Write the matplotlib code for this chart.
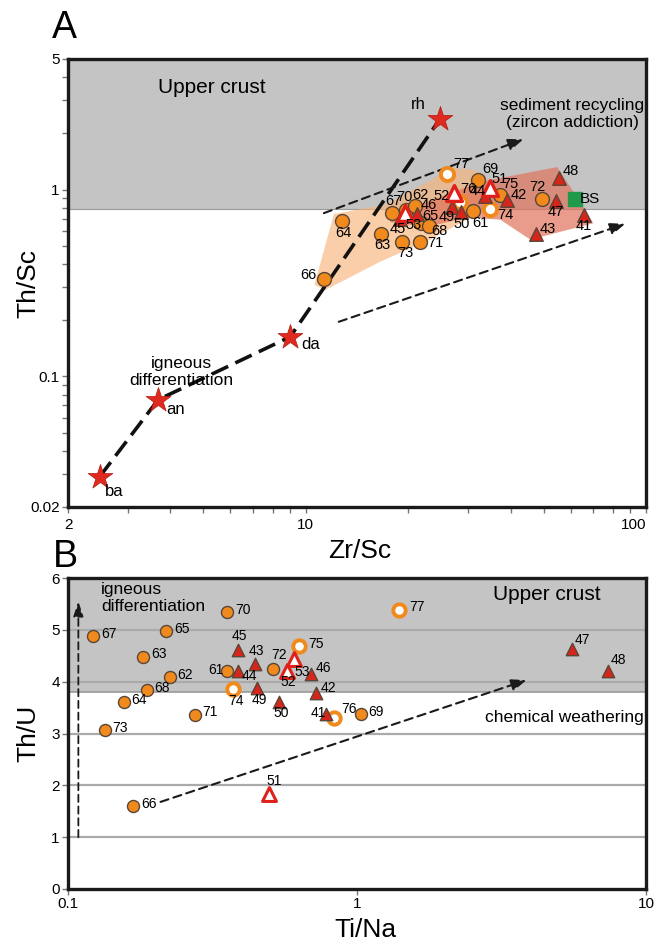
import matplotlib.pyplot as plt
import numpy as np

plt.rcParams['font.family'] = ['Liberation Sans', 'DejaVu Sans']

# ---- panel A data: Th/Sc vs Zr/Sc ----
a_circ_id = ['64', '66', '63', '73', '71', '67', '70', '62', '65', '68', '61', '69', '72', '75']
a_circ_zr = [12.8, 11.3, 16.6, 19.2, 21.6, 17.9, 19.7, 21.0, 21.8, 23.0, 31.0, 32.0, 49.4, 37.3]
a_circ_th = [0.675, 0.332, 0.579, 0.524, 0.527, 0.748, 0.78, 0.82, 0.66, 0.64, 0.77, 1.13, 0.89, 0.93]

a_ring_id = ['77', '74', '76']
a_ring_zr = [26.0, 34.7, 28.4]
a_ring_th = [1.21, 0.79, 0.86]

a_tri_id = ['45', '46', '49', '50', '44', '42', '48', '47', '41', '43']
a_tri_zr = [18.9, 21.2, 26.9, 28.6, 33.7, 39.0, 55.6, 54.3, 65.6, 47.5]
a_tri_th = [0.70, 0.74, 0.81, 0.76, 0.92, 0.88, 1.16, 0.87, 0.73, 0.578]

a_otri_id = ['52', '51', '53']
a_otri_zr = [27.2, 34.8, 19.6]
a_otri_th = [0.957, 1.02, 0.748]

bs_zr, bs_th = 61.9, 0.89

star_id = ['ba', 'an', 'da', 'rh']
star_zr = [2.48, 3.68, 9.0, 24.8]
star_th = [0.0291, 0.075, 0.163, 2.39]

# compositional fields
field_or_zr = [10.6, 12.1, 17.1, 23.5, 26.6, 31.5, 34.8, 31.5, 23.2, 16.5, 11.4]
field_or_th = [0.309, 0.74, 0.83, 1.13, 1.31, 1.27, 1.06, 0.73, 0.54, 0.41, 0.29]
field_rd_zr = [17.7, 18.3, 24.8, 32.6, 54.8, 65.4, 70.0, 45.7, 37.3, 29.8, 22.7]
field_rd_th = [0.67, 0.75, 0.91, 1.10, 1.32, 0.81, 0.66, 0.54, 0.69, 0.71, 0.63]

uc_thsc = 0.79

# ---- panel B data: Th/U vs Ti/Na ----
b_circ_id = ['67', '65', '63', '62', '68', '64', '71', '70', '61', '72', '69', '73', '66']
b_circ_ti = [0.122, 0.218, 0.182, 0.225, 0.188, 0.156, 0.275, 0.354, 0.354, 0.513, 1.03, 0.134, 0.168]
b_circ_thu = [4.88, 4.97, 4.47, 4.09, 3.84, 3.60, 3.35, 5.35, 4.21, 4.24, 3.38, 3.07, 1.61]

b_ring_id = ['74', '75', '76', '77']
b_ring_ti = [0.372, 0.631, 0.830, 1.40]
b_ring_thu = [3.86, 4.68, 3.29, 5.39]

b_tri_id = ['45', '44', '43', '49', '50', '46', '42', '41', '47', '48']
b_tri_ti = [0.386, 0.388, 0.442, 0.450, 0.537, 0.694, 0.719, 0.784, 5.53, 7.36]
b_tri_thu = [4.61, 4.20, 4.34, 3.87, 3.60, 4.15, 3.78, 3.38, 4.63, 4.20]

b_otri_id = ['51', '52', '53']
b_otri_ti = [0.497, 0.571, 0.605]
b_otri_thu = [1.84, 4.20, 4.43]

uc_thu = 3.8

# label offsets in pixels (dx, dy)
a_off = {'64': (1, -12), '66': (-15, 4), '63': (2, -11), '73': (3, -11), '71': (16, -1),
         '67': (2, 12), '70': (-2, 13), '62': (5, 11), '46': (12, 9), '65': (9, 7),
         '45': (-2, -10), '53': (8, -12), '68': (11, -5), '49': (-5, -10), '50': (1, -12),
         '61': (7, -12), '52': (-12, -3), '77': (14, 10), '76': (8, 13), '69': (13, 11),
         '51': (10, 9), '44': (-8, 5), '75': (10, 11), '42': (12, 5), '74': (16, -6),
         '72': (-4, 12), '48': (11, 7), '47': (0, -11), '41': (0, -11), '43': (12, 5)}
b_off = {'67': (16, 2), '65': (16, 2), '63': (16, 3), '62': (15, 2), '68': (15, 2),
         '64': (15, 2), '71': (15, 3), '70': (16, 2), '61': (-11, 1), '74': (3, -12),
         '45': (2, 14), '44': (11, -5), '43': (2, 13), '72': (6, 14), '75': (17, 2),
         '53': (8, -13), '52': (2, -11), '46': (12, 6), '42': (13, 5), '49': (3, -12),
         '50': (2, -11), '41': (-8, 1), '76': (15, 9), '69': (15, 2), '77': (18, 3),
         '47': (11, 9), '48': (11, 11), '73': (15, 2), '66': (16, 2), '51': (5, 13)}

ORANGE = '#f08a1c'
RED = '#d6261c'
EDGE = '#5a4638'
GREY = '#c4c4c4'
PX = 0.72

fig = plt.figure(figsize=(6.55, 9.43), dpi=100)
axA = fig.add_axes([68 / 655, 1 - 507 / 943, 578 / 655, 448 / 943])
axB = fig.add_axes([68 / 655, 1 - 889 / 943, 578 / 655, 311 / 943])


def label_points(ax, ids, xs, ys, offs, size):
    for i, x, y in zip(ids, xs, ys):
        dx, dy = offs[i]
        ax.annotate(i, (x, y), xytext=(dx * PX, dy * PX), textcoords='offset points',
                    ha='center', va='center', fontsize=size, zorder=8)


def style_axes(ax):
    for s in ax.spines.values():
        s.set_linewidth(2.4)
        s.set_color('#1a1a1a')
    ax.tick_params(which='both', direction='out', color='#777777', width=1)
    ax.tick_params(which='major', length=4, labelsize=11, pad=2)
    ax.tick_params(which='minor', length=4)


# ---------------- panel A ----------------
ax = axA
ax.set_xscale('log')
ax.set_yscale('log')
ax.set_xlim(2, 100)
ax.set_ylim(0.02, 5)
ax.axhspan(uc_thsc, 5, color=GREY, zorder=0, lw=0)
ax.axhline(uc_thsc, color='#9a9a9a', lw=0.8, zorder=0.5)

ax.fill(field_or_zr, field_or_th, color='#f6b47a', alpha=0.65, lw=0, zorder=1)
ax.fill(field_rd_zr, field_rd_th, color='#e0735c', alpha=0.7, lw=0, zorder=1.1)

ax.plot(star_zr, star_th, color='#111111', lw=2.6, ls=(0, (5, 2.2)), zorder=2)

ax.annotate('', xy=(43.6, 1.86), xytext=(11.3, 0.748),
            arrowprops=dict(arrowstyle='-|>,head_length=0.9,head_width=0.35',
                            ls=(0, (4, 2.5)), lw=1.5, color='#1a1a1a',
                            shrinkA=0, shrinkB=0), zorder=3)
ax.annotate('', xy=(86.9, 0.656), xytext=(12.5, 0.196),
            arrowprops=dict(arrowstyle='-|>,head_length=0.9,head_width=0.35',
                            ls=(0, (4, 2.5)), lw=1.5, color='#1a1a1a',
                            shrinkA=0, shrinkB=0), zorder=3)

ax.scatter(star_zr, star_th, marker='*', s=350, color='#e02a1f', edgecolor='#b01a10',
           lw=0.5, zorder=5)
star_off = {'ba': (14, -15), 'an': (17, -10), 'da': (20, -8), 'rh': (-22, 14)}
for i, x, y in zip(star_id, star_zr, star_th):
    dx, dy = star_off[i]
    ax.annotate(i, (x, y), xytext=(dx * PX, dy * PX), textcoords='offset points',
                ha='center', va='center', fontsize=12, zorder=8)

ax.scatter(a_circ_zr, a_circ_th, s=100, color=ORANGE, edgecolor=EDGE, lw=1.0, zorder=5)
ax.scatter(a_ring_zr, a_ring_th, s=90, color='white', edgecolor=ORANGE, lw=2.8, zorder=5)
ax.scatter(a_tri_zr, a_tri_th, s=95, marker='^', color=RED, edgecolor=EDGE, lw=1.0, zorder=6)
ax.scatter(a_otri_zr, a_otri_th, s=130, marker='^', color='white', edgecolor='#e0201a',
           lw=2.4, zorder=6)
ax.scatter([bs_zr], [bs_th], s=115, marker='s', color='#1f9a4a', zorder=6)
ax.annotate('BS', (bs_zr, bs_th), xytext=(15 * PX, 0), textcoords='offset points',
            ha='center', va='center', fontsize=11, zorder=8)
label_points(ax, a_circ_id + a_ring_id + a_tri_id + a_otri_id,
             a_circ_zr + a_ring_zr + a_tri_zr + a_otri_zr,
             a_circ_th + a_ring_th + a_tri_th + a_otri_th, a_off, 10.5)

ax.text(5.3, 3.5, 'Upper crust', fontsize=15, ha='center', va='center')
ax.text(60.6, 2.55, 'sediment recycling\n(zircon addiction)', fontsize=12.5,
        ha='center', va='center', linespacing=1.15)
ax.text(4.3, 0.106, 'igneous\ndifferentiation', fontsize=12.5, ha='center',
        va='center', linespacing=1.15)

ax.set_xticks([2, 10, 100])
ax.set_xticklabels(['2', '10', '100'])
ax.get_xticklabels()[-1].set_horizontalalignment('right')
ax.set_yticks([0.02, 0.1, 1, 5])
ax.set_yticklabels(['0.02', '0.1', '1', '5'])
ax.xaxis.set_minor_formatter(plt.NullFormatter())
ax.yaxis.set_minor_formatter(plt.NullFormatter())
style_axes(ax)
ax.tick_params(axis='x', which='major', pad=4)

fig.text(64 / 655, 1 - 28 / 943, 'A', fontsize=27, ha='center', va='center')
fig.text(28 / 655, 1 - 283 / 943, 'Th/Sc', fontsize=19, rotation=90, ha='center', va='center')
fig.text(360 / 655, 1 - 551 / 943, 'Zr/Sc', fontsize=19, ha='center', va='center')

# ---------------- panel B ----------------
ax = axB
ax.set_xscale('log')
ax.set_xlim(0.1, 10)
ax.set_ylim(0, 6)
ax.axhspan(uc_thu, 6, color=GREY, zorder=0, lw=0)
for g in [1, 2, 3, 4, 5]:
    ax.axhline(g, color='#aaaaaa', lw=1.6, zorder=0.5)
ax.axhline(uc_thu, color='#9a9a9a', lw=1.2, zorder=0.5)

ax.annotate('', xy=(3.86, 4.03), xytext=(0.209, 1.68),
            arrowprops=dict(arrowstyle='-|>,head_length=0.9,head_width=0.35',
                            ls=(0, (4, 2.5)), lw=1.5, color='#1a1a1a',
                            shrinkA=0, shrinkB=0), zorder=3)
ax.annotate('', xy=(0.1086, 5.55), xytext=(0.1086, 1.0),
            arrowprops=dict(arrowstyle='-|>,head_length=0.9,head_width=0.3',
                            ls=(0, (4, 2.5)), lw=1.3, color='#1a1a1a',
                            shrinkA=0, shrinkB=0), zorder=3)

ax.scatter(b_circ_ti, b_circ_thu, s=75, color=ORANGE, edgecolor=EDGE, lw=1.0, zorder=5)
ax.scatter(b_ring_ti, b_ring_thu, s=80, color='white', edgecolor=ORANGE, lw=2.8, zorder=5)
ax.scatter(b_tri_ti, b_tri_thu, s=80, marker='^', color=RED, edgecolor=EDGE, lw=1.0, zorder=6)
ax.scatter(b_otri_ti, b_otri_thu, s=100, marker='^', color='white', edgecolor='#e0201a',
           lw=2.2, zorder=6)
label_points(ax, b_circ_id + b_ring_id + b_tri_id + b_otri_id,
             b_circ_ti + b_ring_ti + b_tri_ti + b_otri_ti,
             b_circ_thu + b_ring_thu + b_tri_thu + b_otri_thu, b_off, 10)

ax.text(0.130, 5.62, 'igneous\ndifferentiation', fontsize=12.5, ha='left', va='center',
        linespacing=1.15)
ax.text(4.53, 5.68, 'Upper crust', fontsize=15, ha='center', va='center')
ax.text(9.8, 3.3, 'chemical weathering', fontsize=12.5, ha='right', va='center')

ax.set_xticks([0.1, 1, 10])
ax.set_xticklabels(['0.1', '1', '10'])
ax.xaxis.set_minor_locator(plt.NullLocator())
ax.set_yticks([0, 1, 2, 3, 4, 5, 6])
style_axes(ax)

fig.text(65 / 655, 1 - 557 / 943, 'B', fontsize=27, ha='center', va='center')
fig.text(28 / 655, 1 - 733 / 943, 'Th/U', fontsize=19, rotation=90, ha='center', va='center')
fig.text(365 / 655, 1 - 930 / 943, 'Ti/Na', fontsize=19, ha='center', va='center')

fig.savefig('out.png', dpi=100)
